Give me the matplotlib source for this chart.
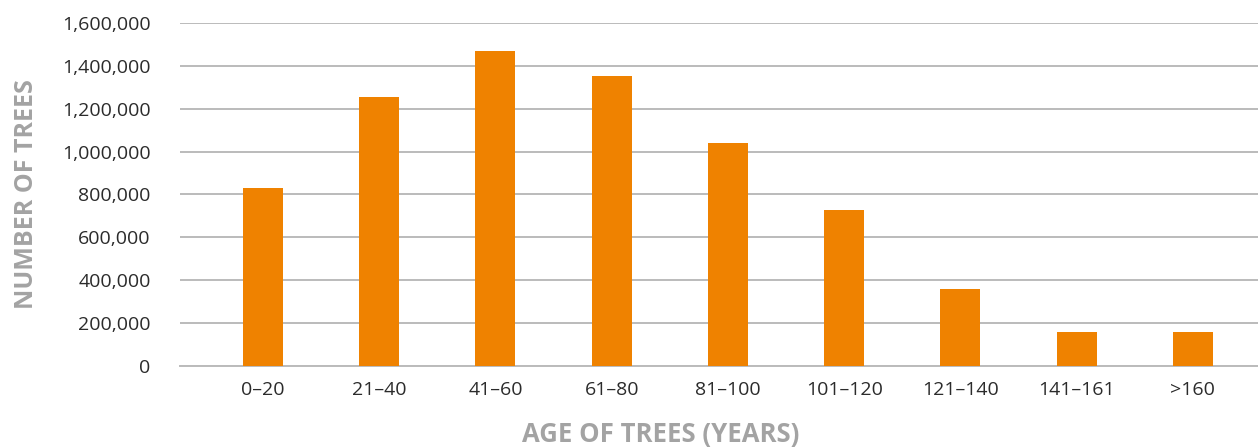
import numpy as np
import matplotlib
matplotlib.use("Agg")
import matplotlib.pyplot as plt
from matplotlib.ticker import FuncFormatter, MultipleLocator

plt.rcParams.update({"font.family": ["Open Sans", "DejaVu Sans"]})

age_classes = ["0–20", "21–40", "41–60", "61–80", "81–100",
               "101–120", "121–140", "141–161", ">160"]
tree_counts = [832000, 1252000, 1470000, 1350000, 1042000,
               728000, 360000, 158000, 158000]

BAR_COLOR = "#EF8200"
GRID_COLOR = "#BBBBBB"
TITLE_COLOR = "#A3A3A3"

fig = plt.figure(figsize=(12.58, 4.48), dpi=100)
ax = fig.add_axes([0.143, 0.183, 0.857, 0.766])

x = np.arange(len(age_classes))
ax.bar(x, tree_counts, width=0.344, color=BAR_COLOR, zorder=3)

ax.set_xlim(-0.714, 8.56)
ax.set_ylim(0, 1_600_000)
ax.yaxis.set_major_locator(MultipleLocator(200_000))
ax.yaxis.set_major_formatter(FuncFormatter(lambda v, _: f"{v:,.0f}"))
ax.grid(axis="y", color=GRID_COLOR, lw=1.4, zorder=0)
ax.set_axisbelow(True)

for s in ["top", "right", "left"]:
    ax.spines[s].set_visible(False)
ax.spines["bottom"].set_color(GRID_COLOR)
ax.spines["bottom"].set_linewidth(1.4)

ax.set_xticks(x)
ax.set_xticklabels(age_classes)
ax.tick_params(axis="both", length=0, labelsize=14, colors="#2B2B2B")
ax.tick_params(axis="x", pad=11)
ax.tick_params(axis="y", pad=21)

# axis titles placed by hand (x title sits left of the axes centre)
fig.text(0.021, 0.566, "NUMBER OF TREES", rotation=90, ha="center",
         va="center", fontsize=18, fontweight="bold", color=TITLE_COLOR)
fig.text(0.525, 0.031, "AGE OF TREES (YEARS)", ha="center", va="center",
         fontsize=18.5, fontweight="bold", color=TITLE_COLOR)

fig.savefig("out.png", dpi=100)
